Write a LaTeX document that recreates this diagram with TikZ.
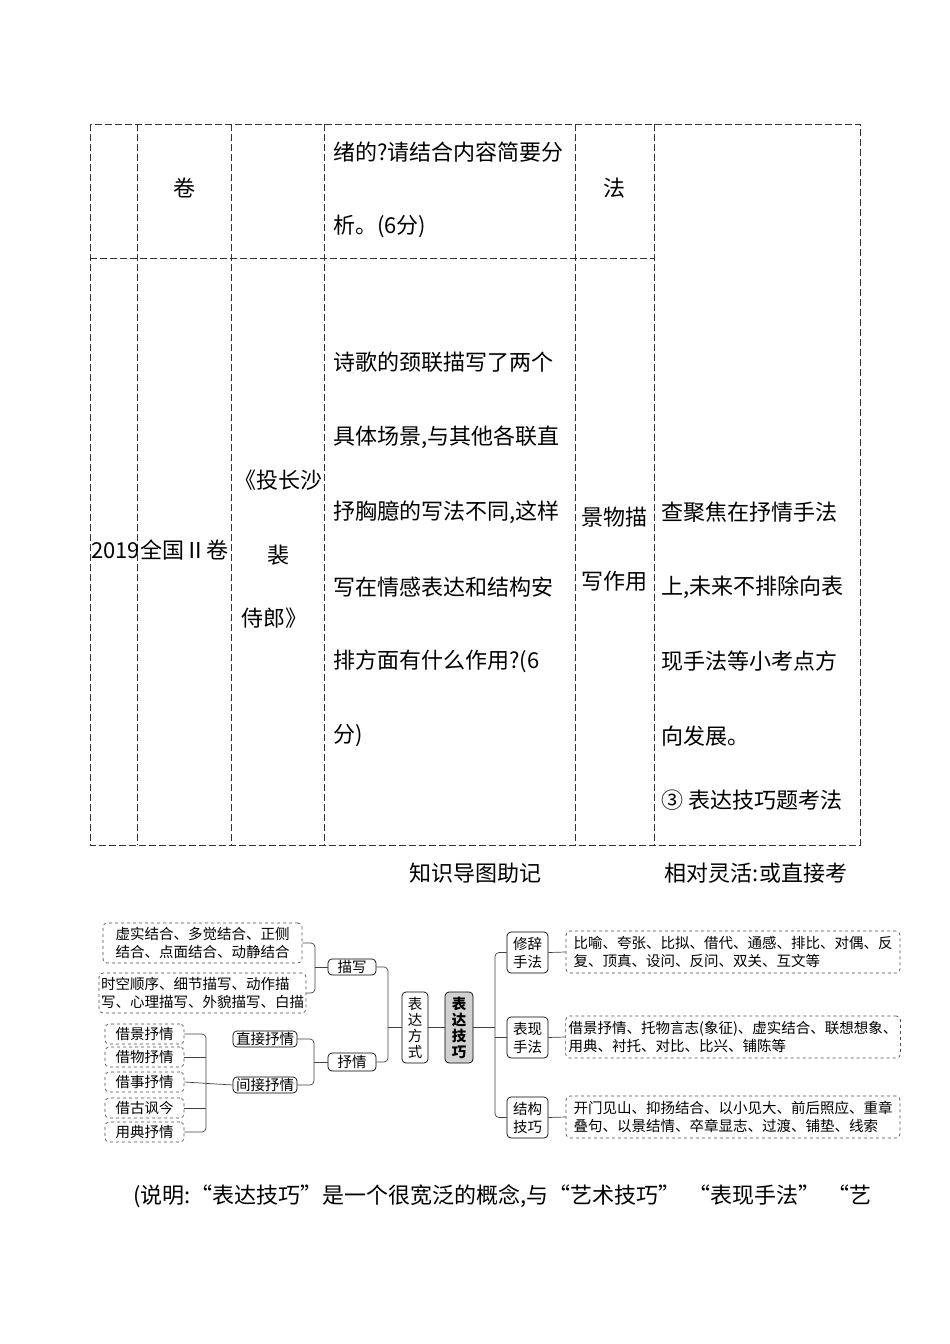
\documentclass[tikz,border=0pt]{standalone}
\usepackage{fontspec}
\setmainfont{Noto Sans CJK SC}
\begin{document}
\begin{tikzpicture}[x=1pt,y=-1pt,
  tl/.style={dash pattern=on 7pt off 3pt,line width=0.9pt,black!80},
  tt/.style={font=\fontsize{22}{25}\selectfont,inner sep=0pt},
  mm/.style={font=\fontsize{14.5}{18}\selectfont,inner sep=0pt},
  rb/.style={draw,rounded corners=4pt,line width=0.7pt,mm,align=center},
  db/.style={draw,dashed,rounded corners=4pt,line width=0.7pt,black!70,text=black,mm,align=left},
  ln/.style={line width=0.7pt,black!75,rounded corners=4pt}]
\useasboundingbox (0,0) rectangle (950,1344);
% table
\draw[tl] (90,124) rectangle (860,845);
\foreach \x in {137,231,324,575,654} \draw[tl] (\x,124) -- (\x,845);
\draw[tl] (90,258) -- (654,258);
\node[tt] (t1) at (184,188) {卷};
\node[tt,anchor=west] (t2) at (333,152) {绪的?请结合内容简要分};
\node[tt,anchor=west] (t3) at (333,226) {析。(6分)};
\node[tt] (t4) at (614,188) {法};
\node[tt,anchor=west] (t5) at (91,550) {2019全国Ⅱ卷};
\node[tt] (t6) at (278,480) {《投长沙};
\node[tt] (t7) at (278,555) {裴};
\node[tt] (t8) at (274,618) {侍郎》};
\node[tt,anchor=west] (c1) at (333,362) {诗歌的颈联描写了两个};
\node[tt,anchor=west] (c2) at (333,437) {具体场景,与其他各联直};
\node[tt,anchor=west] (c3) at (333,512) {抒胸臆的写法不同,这样};
\node[tt,anchor=west] (c4) at (333,587) {写在情感表达和结构安};
\node[tt,anchor=west] (c5) at (333,661) {排方面有什么作用?(6};
\node[tt,anchor=west] (c6) at (333,736) {分)};
\node[tt] (e1) at (614,517) {景物描};
\node[tt] (e2) at (614,581) {写作用};
\node[tt,anchor=west] (f1) at (661,512) {查聚焦在抒情手法};
\node[tt,anchor=west] (f2) at (661,587) {上,未来不排除向表};
\node[tt,anchor=west] (f3) at (661,661) {现手法等小考点方};
\node[tt,anchor=west] (f4) at (661,736) {向发展。};
\node[tt,anchor=west] (f5) at (661,800) {③ 表达技巧题考法};
\node[tt] (k1) at (475,873) {知识导图助记};
\node[tt] (k2) at (756,873) {相对灵活:或直接考};
\node[tt,anchor=west] (k3) at (133,1196) {(说明:“表达技巧”是一个很宽泛的概念,与“艺术技巧”\,\,“表现手法”\,\,“艺};
% mind map
\node[db,minimum width=199pt,minimum height=40pt,align=right,inner xsep=4pt] (a1) at (202.5,943) {虚实结合、多觉结合、正侧\\结合、点面结合、动静结合};
\node[db,minimum width=199pt,minimum height=40pt,inner xsep=2pt] (a2) at (202.5,993) {时空顺序、细节描写、动作描\\写、心理描写、外貌描写、白描};
\node[rb,minimum width=48pt,minimum height=16pt] (ms) at (352,967) {描写};
\node[rb,minimum width=48pt,minimum height=18pt] (sq) at (352,1062) {抒情};
\node[rb,minimum width=26pt,minimum height=71pt,font=\fontsize{14.5}{16}\selectfont] (bf) at (415,1027.5) {表\\达\\方\\式};
\node[rb,fill=black!18,minimum width=28pt,minimum height=71pt,font=\bfseries\fontsize{14.5}{16}\selectfont] (bj) at (459,1027.5) {表\\达\\技\\巧};
\node[rb,minimum width=64pt,minimum height=16pt] (zj) at (265,1039) {直接抒情};
\node[rb,minimum width=64pt,minimum height=16pt] (jj) at (265,1085) {间接抒情};
\foreach \n/\y/\t in {b1/1034/借景抒情,b2/1057/借物抒情,b3/1082/借事抒情,b4/1108/借古讽今,b5/1132/用典抒情}
  \node[db,minimum width=79pt,minimum height=20pt,align=center] (\n) at (144.5,\y) {\t};
\node[rb,minimum width=41pt,minimum height=41pt] (x1) at (527.5,952.5) {修辞\\手法};
\node[rb,minimum width=41pt,minimum height=41pt] (x2) at (527.5,1037.5) {表现\\手法};
\node[rb,minimum width=41pt,minimum height=41pt] (x3) at (527.5,1117.5) {结构\\技巧};
\node[db,minimum width=334pt,minimum height=42pt,inner xsep=6pt] (y1) at (733,952) {比喻、夸张、比拟、借代、通感、排比、对偶、反\\复、顶真、设问、反问、双关、互文等};
\node[db,minimum width=334pt,minimum height=42pt,inner xsep=3pt] (y2) at (733,1037) {借景抒情、托物言志(象征)、虚实结合、联想想象、\\用典、衬托、对比、比兴、铺陈等};
\node[db,minimum width=334pt,minimum height=42pt,inner xsep=6pt] (y3) at (733,1117) {开门见山、抑扬结合、以小见大、前后照应、重章\\叠句、以景结情、卒章显志、过渡、铺垫、线索};
% connectors
\draw[ln] (a1.east) -- (315,943) -- (315,993) -- (a2.east);
\draw[ln] (315,967) -- (ms.west);
\draw[ln] (ms.east) -- (388,967) -- (388,1062) -- (sq.east);
\draw[ln] (388,1027.5) -- (bf.west);
\draw[ln] (bf.east) -- (bj.west);
\draw[ln] (bj.east) -- (495,1027.5);
\draw[ln] (x1.west) -- (495,952.5) -- (495,1117.5) -- (x3.west);
\draw[ln] (495,1037.5) -- (x2.west);
\draw[ln] (x1.east) -- (y1.west);
\draw[ln] (x2.east) -- (y2.west);
\draw[ln] (x3.east) -- (y3.west);
\draw[ln] (zj.east) -- (314,1039) -- (314,1085) -- (jj.east);
\draw[ln] (314,1062) -- (sq.west);
\draw[ln] (b1.east) -- (206,1034) -- (206,1132) -- (b5.east);
\draw[ln] (b2.east) -- (206,1057);
\draw[ln] (b4.east) -- (206,1108);
\draw[ln] (b3.east) -- (jj.west);
\end{tikzpicture}
\end{document}
